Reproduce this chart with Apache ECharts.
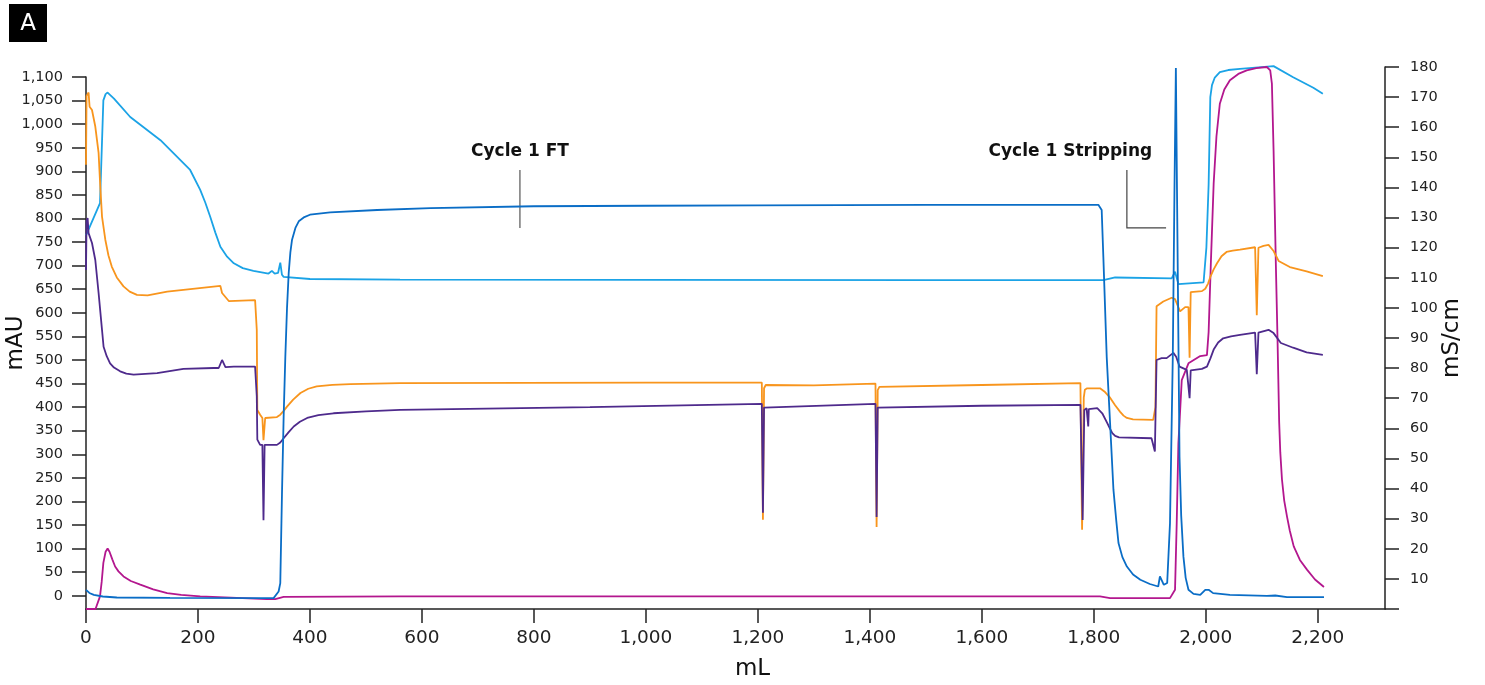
<!DOCTYPE html>
<html>
<head>
<meta charset="utf-8">
<script src="https://cdn.jsdelivr.net/npm/echarts@6/dist/echarts.min.js"></script>
<style>
html, body { margin: 0; background: #fff; }
#chart { width: 1485px; height: 685px; }
</style>
</head>
<body>
<div id="chart"></div>
<script>
// x = mL, y = mAU (left axis)
var darkBlue = [[0,12.7],[6,6],[14,2],[30,-1.5],[55,-3.6],[150,-4.5],[335,-4.9],[344,9.1],[347,27],[350,215],[353,380],[356,507],[359,610],[362,684],[365,728],[368,755],[374,780],[380,794],[390,803],[400,808],[420,811],[436,813],[520,818],[615,822],[800,826],[1000,827],[1200,828],[1500,829],[1808,829],[1814,818],[1817,718],[1823,506],[1829,366],[1835,225],[1840,160],[1844,112],[1851,82],[1859,62],[1870,45],[1883,34],[1900,25],[1915,19.7],[1918,41],[1921,44.5],[1925,23.3],[1931,27],[1936,154],[1941,507],[1944,861],[1946.5,1119],[1948.5,861],[1953,295],[1956,170],[1960,83],[1964,38],[1969,12.7],[1978,4],[1990,2],[1999,12.7],[2005,12.7],[2013,5.7],[2043,2],[2109,0],[2124,0.6],[2145,-2.8],[2211,-2.8]];

var orange = [[0,914],[1,1060],[4.6,1067],[6.4,1037],[10.7,1030],[16.6,995],[22.5,939],[25.5,868],[28.6,804],[34.5,755],[40,722],[46,698],[55,675],[67,656],[78,645],[91,638],[110,637],[145,645],[240,657],[243,642],[255,625],[302,627],[305,564],[306,394],[311,384],[315,377],[317,330],[320,377],[323,378],[341,379],[347,384],[353,392],[359,401],[370,416],[383,430],[397,439],[412,444],[440,447],[472,449],[561,451],[1000,452],[1207,452],[1209,161],[1211,440],[1214,447],[1300,446],[1410,450],[1412,146],[1414,436],[1417,443],[1600,447],[1776,451],[1779,140],[1782,420],[1784,437],[1788,440],[1811,440],[1820,432],[1829,420],[1838,404],[1847,390],[1853,382],[1859,377],[1870,374],[1906,373],[1910,400],[1912,614],[1915,618],[1924,624],[1939,632],[1945,629],[1954,603],[1963,612],[1969,612],[1971,505],[1973,644],[1993,646],[1999,651],[2004,662],[2008,676],[2014,692],[2020,705],[2028,720],[2037,729],[2048,732],[2061,734],[2088,739],[2091,595],[2094,738],[2103,742],[2112,744],[2121,731],[2130,710],[2150,697],[2180,688],[2209,678]];

var purple = [[0,691],[1,795],[2.9,801],[4.6,769],[10.7,748],[16.6,712],[22.5,642],[28.6,564],[31.4,528],[37,508],[43,493],[50,484],[61,476],[72,471],[85,469],[127,472],[174,481],[228,483],[237,483],[243,500],[249,485],[264,486],[302,486],[305,423],[306,331],[311,320],[315,320],[317,160],[319,320],[341,320],[347,325],[353,334],[362,347],[371,359],[382,369],[395,377],[415,383],[442,387],[500,391],[561,394],[900,400],[1207,407],[1209,176],[1211,399],[1410,407],[1412,167],[1414,399],[1600,403],[1776,405],[1780,161],[1783,394],[1787,398],[1790,359],[1791,396],[1806,398],[1815,387],[1824,366],[1829,354],[1833,345],[1838,339],[1845,336],[1903,334],[1909,306],[1912,500],[1921,504],[1930,504],[1942,515],[1947,507],[1953,486],[1966,479],[1971,419],[1973,478],[1993,481],[2002,486],[2008,503],[2014,522],[2022,537],[2031,546],[2045,550],[2061,553],[2088,558],[2091,470],[2094,558],[2112,564],[2121,557],[2134,536],[2156,526],[2180,516],[2209,511]];

// x = mL, y = mS/cm (right axis)
var lightBlue = [[0,124.1],[25,134.8],[31,168.9],[35,171],[38.6,171.5],[50,169.5],[79,163.4],[133,155.7],[186,145.8],[204,139.2],[213,135],[222,130.2],[231,125],[240,120.3],[252,117],[264,114.8],[280,113.2],[299,112.3],[326,111.4],[332,112.3],[337,111.4],[343,111.6],[347,115],[350,111],[353,110.3],[400,109.6],[561,109.4],[1000,109.3],[1500,109.2],[1817,109.2],[1838,110.1],[1939,109.8],[1945,112],[1951,107.9],[1996,108.5],[2001,120],[2005,141],[2008,170],[2011,174],[2016,176.5],[2025,178.3],[2040,179],[2061,179.4],[2121,180.3],[2156,176.6],[2192,173.1],[2209,171.1]];

var magenta = [[0,0],[17,0],[25,4.2],[28,9],[31,15.3],[35,19],[38.6,20.1],[42,19],[47,16.5],[52,14.1],[58,12.5],[67,10.8],[80,9.3],[97,8.1],[120,6.5],[145,5.3],[170,4.7],[204,4.2],[323,3.3],[338,3.3],[353,4],[561,4.2],[1811,4.2],[1829,3.6],[1936,3.6],[1945,6.4],[1948,28.5],[1951,55],[1957,76],[1969,81.6],[1990,84],[2002,84.3],[2005,92],[2009,115],[2014,141.3],[2019,157],[2025,167.8],[2033,172.5],[2043,175.6],[2058,177.7],[2073,178.9],[2090,179.6],[2109,180],[2115,178.9],[2118,174.5],[2121,152.3],[2125,115],[2128,90],[2131,62],[2133,52],[2136,43],[2140,36],[2145,30.7],[2150,26],[2157,20.8],[2168,16.3],[2181,13],[2195,9.8],[2211,7.3]];

var xTicks = [0,200,400,600,800,1000,1200,1400,1600,1800,2000,2200];
var mauTicks = [0,50,100,150,200,250,300,350,400,450,500,550,600,650,700,750,800,850,900,950,1000,1050,1100];
var condTicks = [0,10,20,30,40,50,60,70,80,90,100,110,120,130,140,150,160,170,180];

// annotation anchors in data coords (mL, mAU)
var ftMark = { text: 'Cycle 1 FT', x: 775, yTop: 903, yBottom: 780 };
var stripMark = { text: 'Cycle 1 Stripping', x: 1859, xEnd: 1929, yTop: 903, yBottom: 780, textX: 1758 };

var font = 'DejaVu Sans';
var axisColor = '#222';

function fmt(v) { return v.toLocaleString('en-US'); }

var chart = echarts.init(document.getElementById('chart'));

var options = {
    animation: false,
    backgroundColor: '#fff',
    textStyle: { fontFamily: font },
    grid: [
        { left: 86, right: 100, top: 77, bottom: 76, outerBoundsMode: 'none' },
        { left: 86, right: 100, top: 67, bottom: 76, outerBoundsMode: 'none' }
    ],
    xAxis: [{
        type: 'value', gridIndex: 0, min: 0, max: 2320,
        name: 'mL', nameLocation: 'middle', nameGap: 49, nameMoveOverlap: false,
        nameTextStyle: { fontSize: 23, color: '#111', fontFamily: font, padding: [0, 0, 0, 34] },
        axisLine: { show: true, onZero: false, lineStyle: { color: axisColor, width: 1.5 } },
        axisTick: { show: true, length: 14, customValues: xTicks, lineStyle: { color: axisColor, width: 1.5 } },
        axisLabel: { customValues: xTicks, formatter: fmt, fontSize: 18.5, color: '#222', margin: 20, fontFamily: font },
        splitLine: { show: false }
    }, {
        type: 'value', gridIndex: 1, min: 0, max: 2320, show: false
    }],
    yAxis: [{
        type: 'value', gridIndex: 0, position: 'left', min: -28, max: 1100,
        name: 'mAU', nameLocation: 'middle', nameGap: 58, nameRotate: 90, nameMoveOverlap: false,
        nameTextStyle: { fontSize: 23, color: '#111', fontFamily: font },
        axisLine: { show: true, onZero: false, lineStyle: { color: axisColor, width: 1.5 } },
        axisTick: { show: true, length: 14, customValues: mauTicks, lineStyle: { color: axisColor, width: 1.5 } },
        axisLabel: { customValues: mauTicks, formatter: fmt, fontSize: 14.5, color: '#222', margin: 23, fontFamily: font },
        splitLine: { show: false }
    }, {
        type: 'value', gridIndex: 1, position: 'right', min: 0, max: 180,
        name: 'mS/cm', nameLocation: 'middle', nameGap: 56, nameRotate: 90, nameMoveOverlap: false,
        nameTextStyle: { fontSize: 23, color: '#111', fontFamily: font },
        axisLine: { show: true, onZero: false, lineStyle: { color: axisColor, width: 1.5 } },
        axisTick: { show: true, length: 14, customValues: condTicks, lineStyle: { color: axisColor, width: 1.5 } },
        axisLabel: { customValues: condTicks.slice(1), fontSize: 14.5, color: '#222', margin: 25, fontFamily: font },
        splitLine: { show: false }
    }],
    series: [
        { name: 'lightBlue', type: 'line', xAxisIndex: 1, yAxisIndex: 1, data: lightBlue, showSymbol: false, clip: false, lineStyle: { color: '#1ba3e6', width: 1.8 } },
        { name: 'magenta', type: 'line', xAxisIndex: 1, yAxisIndex: 1, data: magenta, showSymbol: false, clip: false, lineStyle: { color: '#b3178e', width: 1.8 } },
        { name: 'orange', type: 'line', xAxisIndex: 0, yAxisIndex: 0, data: orange, showSymbol: false, clip: false, lineStyle: { color: '#f8951d', width: 1.8 } },
        { name: 'purple', type: 'line', xAxisIndex: 0, yAxisIndex: 0, data: purple, showSymbol: false, clip: false, lineStyle: { color: '#4e2a8c', width: 1.8 } },
        { name: 'darkBlue', type: 'line', xAxisIndex: 0, yAxisIndex: 0, data: darkBlue, showSymbol: false, clip: false, lineStyle: { color: '#0a6dc6', width: 1.8 } }
    ]
};

chart.setOption(options);

// annotations, placed from data coords
function px(x, y) { return chart.convertToPixel({ gridIndex: 0 }, [x, y]); }

var ftTop = px(ftMark.x, ftMark.yTop), ftBot = px(ftMark.x, ftMark.yBottom);
var stTop = px(stripMark.x, stripMark.yTop), stBot = px(stripMark.x, stripMark.yBottom);
var stEnd = px(stripMark.xEnd, stripMark.yBottom);
var stText = px(stripMark.textX, stripMark.yTop);

chart.setOption({
    graphic: [
        { type: 'rect', x: 9, y: 4, shape: { width: 38, height: 38 }, style: { fill: '#000' } },
        { type: 'text', x: 28, y: 24, style: { text: 'A', fill: '#fff', font: '23px ' + font, align: 'center', verticalAlign: 'middle' } },
        { type: 'line', shape: { x1: ftTop[0], y1: ftTop[1], x2: ftBot[0], y2: ftBot[1] }, style: { stroke: '#555', lineWidth: 1.2 } },
        { type: 'text', x: ftTop[0], y: ftTop[1] - 18, style: { text: ftMark.text, fill: '#111', font: 'bold 17px ' + font, align: 'center', verticalAlign: 'middle' } },
        { type: 'polyline', shape: { points: [stTop, stBot, stEnd] }, style: { stroke: '#444', lineWidth: 1.2, fill: null } },
        { type: 'text', x: stText[0], y: stText[1] - 18, style: { text: stripMark.text, fill: '#111', font: 'bold 17px ' + font, align: 'center', verticalAlign: 'middle' } }
    ]
});

window.onresize = function () { chart.resize(); };
</script>
</body>
</html>
